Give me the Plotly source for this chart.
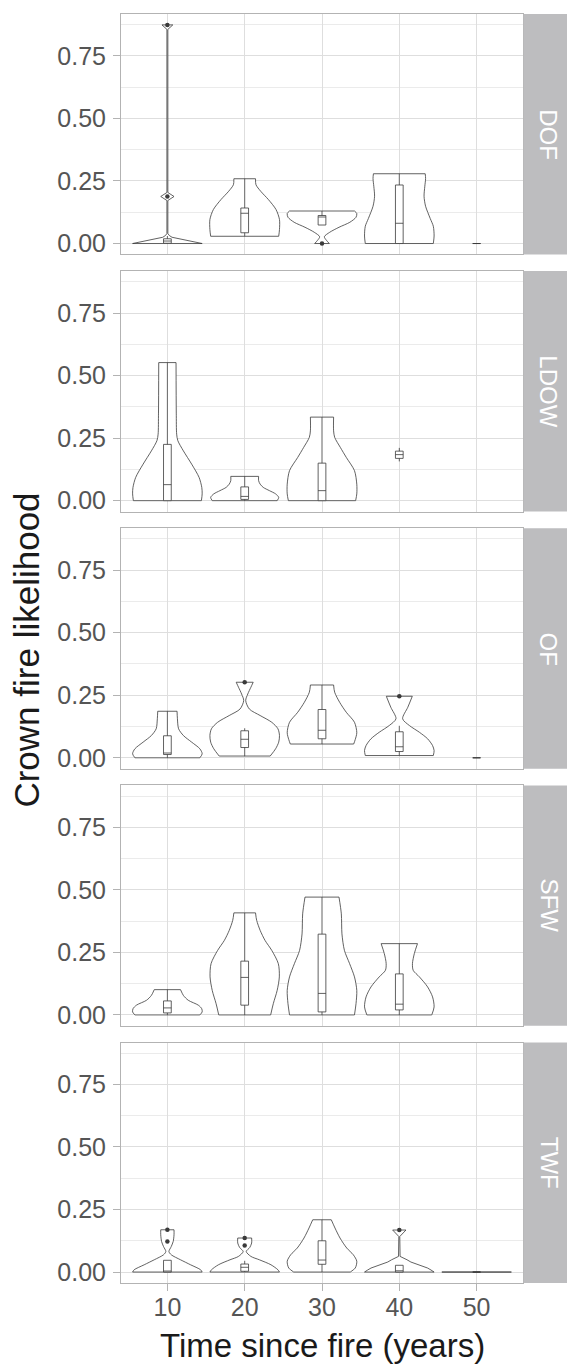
import plotly.graph_objects as go

# ---------------- data ----------------
FACETS = ["DOF", "LDOW", "OF", "SFW", "TWF"]
TIMES = [10, 20, 30, 40, 50]
Y_TICKS = [0.0, 0.25, 0.5, 0.75]
Y_TICK_TEXT = ["0.00", "0.25", "0.50", "0.75"]
X_TICK_TEXT = ["10", "20", "30", "40", "50"]

# violin outlines: y levels and half-widths (in category units, max 0.45)
DOF_10_Y = [0, 0.004, 0.009, 0.014, 0.019, 0.025, 0.032, 0.04, 0.172, 0.188, 0.204, 0.856, 0.874]
DOF_10_W = [0.45, 0.38, 0.29, 0.2, 0.12, 0.06, 0.025, 0.006, 0.006, 0.086, 0.006, 0.006, 0.07]
DOF_20_Y = [0.029, 0.056, 0.096, 0.136, 0.176, 0.209, 0.235, 0.259]
DOF_20_W = [0.44, 0.45, 0.45, 0.405, 0.306, 0.207, 0.146, 0.14]
DOF_30_Y = [0, 0.012, 0.027, 0.045, 0.065, 0.085, 0.105, 0.12, 0.13]
DOF_30_W = [0.095, 0.06, 0.03, 0.1, 0.22, 0.36, 0.44, 0.45, 0.42]
DOF_40_Y = [0, 0.03, 0.069, 0.1, 0.149, 0.189, 0.229, 0.26, 0.279]
DOF_40_W = [0.44, 0.45, 0.44, 0.40, 0.34, 0.32, 0.33, 0.34, 0.335]

LDOW_10_Y = [0, 0.027, 0.053, 0.093, 0.146, 0.199, 0.24, 0.266, 0.35, 0.552]
LDOW_10_W = [0.44, 0.45, 0.445, 0.41, 0.314, 0.207, 0.135, 0.12, 0.115, 0.112]
LDOW_20_Y = [0, 0.013, 0.027, 0.04, 0.053, 0.066, 0.08, 0.097]
LDOW_20_W = [0.42, 0.44, 0.40, 0.32, 0.24, 0.2, 0.18, 0.18]
LDOW_30_Y = [0, 0.027, 0.066, 0.12, 0.173, 0.213, 0.253, 0.279, 0.334]
LDOW_30_W = [0.435, 0.45, 0.45, 0.42, 0.314, 0.237, 0.164, 0.15, 0.15]

OF_10_Y = [0, 0.016, 0.036, 0.0625, 0.089, 0.116, 0.156, 0.186]
OF_10_W = [0.42, 0.45, 0.42, 0.314, 0.207, 0.145, 0.13, 0.125]
OF_20_Y = [0.007, 0.036, 0.0625, 0.089, 0.116, 0.142, 0.169, 0.195, 0.229, 0.255, 0.282, 0.302]
OF_20_W = [0.33, 0.40, 0.44, 0.45, 0.43, 0.35, 0.2, 0.06, 0.013, 0.04, 0.08, 0.11]
OF_30_Y = [0.055, 0.073, 0.1, 0.142, 0.182, 0.222, 0.262, 0.291]
OF_30_W = [0.41, 0.43, 0.45, 0.42, 0.314, 0.228, 0.164, 0.15]
OF_40_Y = [0.009, 0.029, 0.049, 0.076, 0.102, 0.129, 0.156, 0.202, 0.246]
OF_40_W = [0.44, 0.45, 0.43, 0.366, 0.26, 0.13, 0.043, 0.11, 0.168]

SFW_10_Y = [0, 0.012, 0.025, 0.039, 0.0585, 0.078, 0.101]
SFW_10_W = [0.42, 0.45, 0.444, 0.4, 0.27, 0.207, 0.17]
SFW_20_Y = [0, 0.045, 0.098, 0.152, 0.205, 0.258, 0.298, 0.338, 0.378, 0.408]
SFW_20_W = [0.336, 0.37, 0.42, 0.448, 0.435, 0.35, 0.263, 0.2, 0.155, 0.14]
SFW_30_Y = [0, 0.045, 0.098, 0.152, 0.205, 0.258, 0.324, 0.404, 0.471]
SFW_30_W = [0.42, 0.44, 0.45, 0.42, 0.357, 0.29, 0.258, 0.25, 0.22]
SFW_40_Y = [0, 0.032, 0.072, 0.112, 0.152, 0.178, 0.205, 0.245, 0.285]
SFW_40_W = [0.42, 0.45, 0.43, 0.366, 0.26, 0.18, 0.17, 0.194, 0.235]

TWF_10_Y = [0, 0.009, 0.029, 0.049, 0.069, 0.082, 0.102, 0.122, 0.149, 0.169]
TWF_10_W = [0.45, 0.43, 0.3, 0.17, 0.05, 0.02, 0.05, 0.075, 0.086, 0.086]
TWF_20_Y = [0, 0.009, 0.029, 0.049, 0.0625, 0.082, 0.098, 0.116, 0.136]
TWF_20_W = [0.45, 0.43, 0.34, 0.19, 0.08, 0.02, 0.065, 0.09, 0.09]
TWF_30_Y = [0, 0.016, 0.043, 0.069, 0.096, 0.136, 0.176, 0.209]
TWF_30_W = [0.366, 0.43, 0.45, 0.405, 0.32, 0.233, 0.168, 0.12]
TWF_40_Y = [0, 0.003, 0.008, 0.016, 0.024, 0.032, 0.04, 0.049, 0.056, 0.0625, 0.142, 0.168]
TWF_40_W = [0.45, 0.44, 0.41, 0.366, 0.29, 0.215, 0.15, 0.1, 0.05, 0.01, 0.006, 0.086]
TWF_50_Y = [0, 0]
TWF_50_W = [0.45, 0.45]

VIOLINS = {
    "DOF": {10: (DOF_10_Y, DOF_10_W), 20: (DOF_20_Y, DOF_20_W),
            30: (DOF_30_Y, DOF_30_W), 40: (DOF_40_Y, DOF_40_W)},
    "LDOW": {10: (LDOW_10_Y, LDOW_10_W), 20: (LDOW_20_Y, LDOW_20_W),
             30: (LDOW_30_Y, LDOW_30_W)},
    "OF": {10: (OF_10_Y, OF_10_W), 20: (OF_20_Y, OF_20_W),
           30: (OF_30_Y, OF_30_W), 40: (OF_40_Y, OF_40_W)},
    "SFW": {10: (SFW_10_Y, SFW_10_W), 20: (SFW_20_Y, SFW_20_W),
            30: (SFW_30_Y, SFW_30_W), 40: (SFW_40_Y, SFW_40_W)},
    "TWF": {10: (TWF_10_Y, TWF_10_W), 20: (TWF_20_Y, TWF_20_W),
            30: (TWF_30_Y, TWF_30_W), 40: (TWF_40_Y, TWF_40_W),
            50: (TWF_50_Y, TWF_50_W)},
}
# violins with needle-like parts are drawn with straight segments
LINEAR_VIOLINS = {("DOF", 10), ("TWF", 40)}

# box statistics per facet
DOF_BOX_T = [10, 20, 30, 40, 50]
DOF_Q1 = [0.001, 0.043, 0.074, 0.0, 0.0]
DOF_MED = [0.010, 0.121, 0.106, 0.081, 0.0]
DOF_Q3 = [0.019, 0.142, 0.112, 0.234, 0.0]
DOF_LO = [0.0, 0.029, 0.074, 0.0, 0.0]
DOF_HI = [0.030, 0.259, 0.130, 0.279, 0.0]

LDOW_BOX_T = [10, 20, 30, 40]
LDOW_Q1 = [0.0, 0.005, 0.0, 0.169]
LDOW_MED = [0.064, 0.017, 0.040, 0.184]
LDOW_Q3 = [0.225, 0.055, 0.150, 0.198]
LDOW_LO = [0.0, 0.0, 0.0, 0.157]
LDOW_HI = [0.552, 0.097, 0.334, 0.211]

OF_BOX_T = [10, 20, 30, 40, 50]
OF_Q1 = [0.013, 0.041, 0.076, 0.025, 0.0]
OF_MED = [0.019, 0.074, 0.110, 0.044, 0.0]
OF_Q3 = [0.088, 0.108, 0.193, 0.104, 0.0]
OF_LO = [0.0, 0.007, 0.055, 0.009, 0.0]
OF_HI = [0.186, 0.118, 0.291, 0.128, 0.0]

SFW_BOX_T = [10, 20, 30, 40]
SFW_Q1 = [0.008, 0.039, 0.012, 0.020]
SFW_MED = [0.028, 0.150, 0.086, 0.043]
SFW_Q3 = [0.056, 0.215, 0.323, 0.164]
SFW_LO = [0.0, 0.0, 0.0, 0.0]
SFW_HI = [0.101, 0.408, 0.471, 0.285]

TWF_BOX_T = [10, 20, 30, 40, 50]
TWF_Q1 = [0.0, 0.003, 0.031, 0.0, 0.0]
TWF_MED = [0.0, 0.019, 0.048, 0.005, 0.0]
TWF_Q3 = [0.047, 0.032, 0.125, 0.027, 0.0]
TWF_LO = [0.0, 0.0, 0.0, 0.0, 0.0]
TWF_HI = [0.047, 0.045, 0.209, 0.027, 0.0]

BOXES = {
    "DOF": (DOF_BOX_T, DOF_Q1, DOF_MED, DOF_Q3, DOF_LO, DOF_HI),
    "LDOW": (LDOW_BOX_T, LDOW_Q1, LDOW_MED, LDOW_Q3, LDOW_LO, LDOW_HI),
    "OF": (OF_BOX_T, OF_Q1, OF_MED, OF_Q3, OF_LO, OF_HI),
    "SFW": (SFW_BOX_T, SFW_Q1, SFW_MED, SFW_Q3, SFW_LO, SFW_HI),
    "TWF": (TWF_BOX_T, TWF_Q1, TWF_MED, TWF_Q3, TWF_LO, TWF_HI),
}

# outliers
DOF_OUT_T = [10, 10, 30]
DOF_OUT_Y = [0.188, 0.874, 0.0]
OF_OUT_T = [20, 40]
OF_OUT_Y = [0.302, 0.246]
TWF_OUT_T = [10, 10, 20, 20, 40]
TWF_OUT_Y = [0.122, 0.169, 0.106, 0.136, 0.168]
OUTLIERS = {
    "DOF": (DOF_OUT_T, DOF_OUT_Y),
    "OF": (OF_OUT_T, OF_OUT_Y),
    "TWF": (TWF_OUT_T, TWF_OUT_Y),
}

# ---------------- styling / layout ----------------
W, H = 575, 1364          # target picture size
PAGE_MARGIN = 8            # default body margin of the html page
FW, FH = W - PAGE_MARGIN, H - PAGE_MARGIN


def px_x(px):
    return (px - PAGE_MARGIN) / FW


def px_y(py):
    return 1 - (py - PAGE_MARGIN) / FH


PANEL_L, PANEL_R = 121, 523
PANEL_TOP0, PANEL_H, PANEL_PITCH = 14, 241, 257.7
CAT = 10.0  # x units per category
Y_RANGE = [-0.0437, 0.9177]
X_RANGE = [10 - 0.6 * CAT, 50 + 0.6 * CAT]
LINE_COL = "#3a3a3a"
GRID_MAJ = "#DEDEDE"
GRID_MIN = "#EBEBEB"
BORDER = "#B3B3B3"
STRIP = "#BDBDBF"
TICK_TXT = "#555555"
FONT = "Liberation Sans, Arial, sans-serif"
NP = len(FACETS)

fig = go.Figure()

for i, f in enumerate(FACETS):
    n = i + 1
    xa = "x" if n == 1 else f"x{n}"
    ya = "y" if n == 1 else f"y{n}"
    xo, yo = f"x{n + NP}", f"y{n + NP}"   # overlay axes (drawn above)
    # violins (base layer): white fill + outline (sides smooth, ends flat)
    for t, (ys, ws) in VIOLINS.get(f, {}).items():
        left_x = [t - w * CAT for w in ws]
        right_x = [t + w * CAT for w in ws]
        ys = list(ys)
        fig.add_trace(go.Scatter(
            x=left_x + right_x[::-1] + [left_x[0]],
            y=ys + ys[::-1] + [ys[0]],
            mode="lines", fill="toself", fillcolor="white",
            line=dict(width=0, color="white"),
            xaxis=xa, yaxis=ya, hoverinfo="skip", showlegend=False))
        shape = "linear" if (f, t) in LINEAR_VIOLINS else "spline"
        ox = left_x + [None] + right_x + [None] + \
            [left_x[-1], right_x[-1]] + [None] + [left_x[0], right_x[0]]
        oy = ys + [None] + ys + [None] + [ys[-1], ys[-1]] + [None] + [ys[0], ys[0]]
        fig.add_trace(go.Scatter(
            x=ox, y=oy, mode="lines", connectgaps=False,
            line=dict(color=LINE_COL, width=0.8, shape=shape, smoothing=0.8),
            xaxis=xa, yaxis=ya, hoverinfo="skip", showlegend=False))
    # boxes (overlay layer)
    bt, q1, med, q3, lo, hi = BOXES[f]
    for k in range(len(bt)):
        fig.add_trace(go.Box(
            x=[bt[k]], q1=[q1[k]], median=[med[k]], q3=[q3[k]],
            lowerfence=[lo[k]], upperfence=[hi[k]],
            width=0.1 * CAT, whiskerwidth=0, boxpoints=False,
            fillcolor="white", line=dict(color=LINE_COL, width=0.8),
            xaxis=xo, yaxis=yo, showlegend=False, hoverinfo="skip"))
    # outliers
    if f in OUTLIERS:
        ot, oy_ = OUTLIERS[f]
        fig.add_trace(go.Scatter(
            x=ot, y=oy_, mode="markers",
            marker=dict(color=LINE_COL, size=4.5),
            xaxis=xo, yaxis=yo, hoverinfo="skip", showlegend=False))

layout = dict(
    width=FW, height=FH, margin=dict(l=0, r=0, t=0, b=0),
    paper_bgcolor="white", plot_bgcolor="white",
    font=dict(family=FONT, color=TICK_TXT), showlegend=False,
)
shapes, annotations = [], []
for i, f in enumerate(FACETS):
    n = i + 1
    top = PANEL_TOP0 + i * PANEL_PITCH
    bot = top + PANEL_H
    ydom = [px_y(bot), px_y(top)]
    xdom = [px_x(PANEL_L), px_x(PANEL_R)]
    last = (n == NP)
    xkey = "xaxis" if n == 1 else f"xaxis{n}"
    ykey = "yaxis" if n == 1 else f"yaxis{n}"
    xname = "x" if n == 1 else f"x{n}"
    yname = "y" if n == 1 else f"y{n}"
    layout[xkey] = dict(
        domain=xdom, range=X_RANGE, anchor=yname,
        tickmode="array", tickvals=TIMES, ticktext=X_TICK_TEXT,
        showticklabels=last, ticks="outside" if last else "",
        ticklen=7, tickcolor=BORDER, tickwidth=1, ticklabelstandoff=-5,
        tickfont=dict(size=25, color=TICK_TXT, family=FONT),
        showgrid=True, gridcolor=GRID_MAJ, gridwidth=1, zeroline=False,
        showline=True, mirror=True, linecolor=BORDER, linewidth=1,
        fixedrange=True,
    )
    layout[ykey] = dict(
        domain=ydom, range=Y_RANGE, anchor=xname,
        tickmode="array", tickvals=Y_TICKS, ticktext=Y_TICK_TEXT,
        ticks="outside", ticklen=7, tickcolor=BORDER, tickwidth=1,
        ticklabelstandoff=2,
        tickfont=dict(size=25, color=TICK_TXT, family=FONT),
        showgrid=True, gridcolor=GRID_MAJ, gridwidth=1, zeroline=False,
        minor=dict(tickmode="array", tickvals=[0.125, 0.375, 0.625, 0.875],
                   showgrid=True, gridcolor=GRID_MIN, gridwidth=0.8, ticks=""),
        showline=True, mirror=True, linecolor=BORDER, linewidth=1,
        fixedrange=True,
    )
    # overlay axes carrying boxes and outliers above the violins
    layout[f"xaxis{n + NP}"] = dict(
        domain=xdom, range=X_RANGE, overlaying=xname, anchor=f"y{n + NP}",
        visible=False, showgrid=False, zeroline=False, fixedrange=True)
    layout[f"yaxis{n + NP}"] = dict(
        domain=ydom, range=Y_RANGE, overlaying=yname, anchor=f"x{n + NP}",
        visible=False, showgrid=False, zeroline=False, fixedrange=True)
    # facet strip
    shapes.append(dict(type="rect", xref="paper", yref="paper",
                       x0=px_x(PANEL_R + 0.5), x1=px_x(W), y0=ydom[0], y1=ydom[1],
                       fillcolor=STRIP, line=dict(width=0), layer="above"))
    annotations.append(dict(text=f, xref="paper", yref="paper",
                            x=px_x((PANEL_R + W) / 2), y=(ydom[0] + ydom[1]) / 2,
                            showarrow=False, textangle=90,
                            font=dict(size=24, color="white", family=FONT),
                            xanchor="center", yanchor="middle"))

# axis titles
annotations.append(dict(text="Time since fire (years)", xref="paper", yref="paper",
                        x=px_x((PANEL_L + PANEL_R) / 2), y=px_y(1369),
                        xanchor="center", yanchor="bottom", showarrow=False,
                        font=dict(size=33, color="#1a1a1a", family=FONT)))
annotations.append(dict(text="Crown fire likelihood", xref="paper", yref="paper",
                        x=px_x(27), y=px_y(652), xanchor="center", yanchor="middle",
                        showarrow=False, textangle=-90, borderpad=0,
                        font=dict(size=35, color="#1a1a1a", family=FONT)))
layout["shapes"] = shapes
layout["annotations"] = annotations
fig.update_layout(**layout)

fig.write_html("out.html")
